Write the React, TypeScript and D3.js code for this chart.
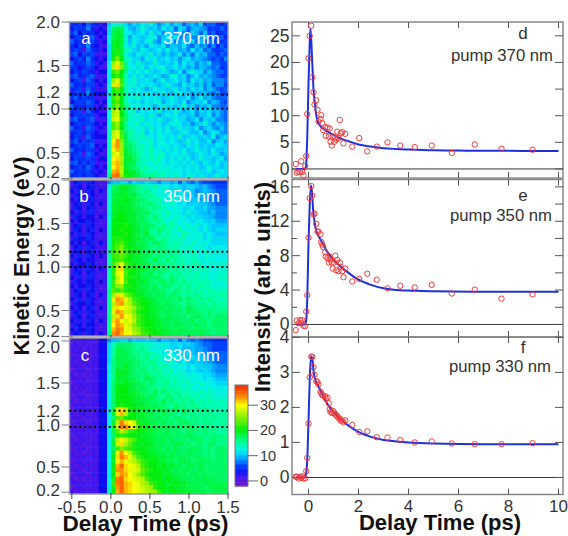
import * as d3 from "d3"
import React from "react"

// heat maps: one string per energy row (top = 2.0 eV), one base-36 character per delay step
const rowsA = [
  "546375423 a cccb 9bacbda8ac9ba79a8b677546",
  "365584232 b hiic a9bdbab9cab7ba79a9856575",
  "573645323 b ijid cabcadab8ba9c87b97a67456",
  "356467232 c ijjd 9cbabdc8acbb88a889b68574",
  "745276423 c jkjd acbacd98bab79b9b7a685756",
  "536584322 b jkid bdab9cbac8aa9c87a8968475",
  "465175423 b jlje dbadbabcadab9a8c9a786567",
  "673656222 b kljd bacbbdab9b9ac8a7b9a77576",
  "356485323 b lpkf dbb9cbdabcab8bc9a9876758",
  "745576232 c qtog cbebabdbabac9cab8a9b7766",
  "553465322 d rvph dcbdacbcdabcab9a8a987856",
  "364654233 c mokg cbdbdbabcb9ac8bdbb8a8776",
  "674567222 c kmkf bdbcabcb9adcab8ac9a98766",
  "356175323 c qtmf cebbcb9bdabcab8cab9a8887",
  "745466232 d svnf cdbcbcbabdba9cab9b8a7886",
  "456275222 c lnkf dbdb9bdbbabdab9cab8a9767",
  "365584333 c kmjf cbcbdbabcb9bdab8a9a87966",
  "574645222 d mpkf cdebcbcbabdbaac8ac9a8777",
  "356576323 c lnkf dbcacbdc9bcbac8abac8a976",
  "745465232 d mpkg ecdbcb9bdbbabdab8a9b8877",
  "456174322 d qskg deacbcbdabbdb9ac8bab9a87",
  "365656233 d rskh ecdcbdb9bcbdabab8aac8a87",
  "674467222 d stmh edcebcbdbabdbb9ac8bab887",
  "356565323 d nqkg cdebdcbcabcdcab8abda8a98",
  "745276232 d npkg edcdbebcbdabcbbac8ab98a8",
  "456465322 e rtmh feceacbdbcbabdbaac8acb98",
  "365174333 e stni fededcbdcbcbdabcbabac8ab",
  "574656222 e uxpi gfecdebdcbcbabdbcaac8ab9",
  "356567323 e vxqi hgdfcebccdbcbacbcabaacba",
  "745465232 e uwqj hgfedecdbcbdbcabdbbacaab",
  "456176322 e stqj ihfecfcdebccbdbabcbacb9a",
  "365565233 e uvrj jhgdeedfcbcbdbcabdbbabc9",
  "674646222 f vwqj iifedcedcbdcbcbdbacbacab",
  "356475323 f uwrj ihgefdcecdcbdbcbcabdbbab",
  "745564232 f wxrk jjhfedfdedcdcbcbdbbcabcb",
  "456465322 g yzql kjigfgfeedcecbdcbcbabdbb",
]
const rowsB = [
  "234243212 8 aabb 9baabaa8aa9a7a87976655",
  "243134212 c hijj ihgfedfcdcbcbabba9a876",
  "324243132 d iijj ihgfgedcdcbbcaba89a987",
  "243343212 d ijjj ijhgfgedcdcbbcaa9a9877",
  "323134222 d ijjk jihhgfefdcdcbcbaa9a887",
  "234243132 d jjjj jihgghfedcecbcabbaa987",
  "243134212 d jjkj jiihgfgfedcdcbbcaab998",
  "324244212 d jkkj jjihigfedfdccbdbbaa9a8",
  "243233132 d jkkk jjhigfhfedcedcbcbbaa98",
  "323343212 d kkkk jjihhgfgedfdcdcbccbab9",
  "234243212 e kkkl kjihihgfgefedcecdbcbaa",
  "243134132 e kklk kjjhigfhgfedfdcdcbdbab",
  "324243212 e kkkl kjihjgfgefedcfdcdcbcba",
  "243343212 e lllk kjjihigfgfedfecdcdbcbb",
  "323134132 e lmnl kjiihgihgfefedcedcdcbb",
  "234243212 f lnpl kjjihgfhgfefedfdcecbcc",
  "243134212 f lopm kkjihigfhgfgedcfdcdcdc",
  "324243132 f mnom kjjiihghgfgfefdedcedcc",
  "243233212 f lmnl kjjihgigfhfgfedfecdcdc",
  "323343212 f mqtn lkjiihghgfgfefdefdcecd",
  "234243132 f lsvm lkjjihighgfgfefedfedcd",
  "243134212 f mtun kkjihighgfgfgefefdedcd",
  "324244212 f lrum ljkiihihgfhgffeefdedce",
  "243233132 f msun kkjjihghighgfgfefefedd",
  "323343212 f mpql lkjiihighhgfgfgeffeedd",
  "234243212 g nlnl kkjjihihhgfhgfgfefefee",
  "243134132 g qvtp nlkjiihihghhgfgfgfefef",
  "324243212 g txwt qmlkjjihihhgighgfgfgfe",
  "243343212 g rwxs rnlkkjiihihhgfhggfgfgf",
  "323134132 g svut sqmlkjjiihihhgihgggfgf",
  "234243212 g txws rplkkjjihihhhgihhgghgg",
  "243134212 g rvxu tqnlkjjihiihhhghihghgh",
  "324243132 g vxus trmlkkjjiihihhhighhghh",
  "243233212 g uxwt spnlkkjjiihiihhhihhghh",
  "323343212 g wyxt tqpmlkkjjiihiihhhihhgh",
  "234243132 g xzwu urqnmlkkjjiiihiihihhgh",
]
const rowsC = [
  "111212033 8 aabb 9baabaa8aa9a7a87876655",
  "021211233 b ehhh hgffeedcdcbbcaba987766",
  "212021133 b fiih hgfgedcdcbbaba9a998766",
  "012121233 b fiii hggfgfedcdcbbaba9a8877",
  "121201133 b giii hhgfgefedcdcbbabaa9887",
  "201212233 b giii ihhgfgfedcecbcbabaa987",
  "121021133 c giij ihhggfgefedcdcbcbbaa98",
  "012202133 c gjjj ihghgfgfedfcdcbcbaba98",
  "201021233 c gjjj ihhghgfgefededcdccbba9",
  "121201133 c gjjj iihgihgfgfefdedcdcbcba",
  "012121233 c hjjk jiihghgffgefedfdcedccb",
  "201212133 c hkkk jihihggfgffefdedcdcdcc",
  "121021233 c hkkk jjihhgighgfgfefedfdedc",
  "012201133 c hkkk kjjihihgfhgfgffefdeedd",
  "201021233 c hkkk kjjiihhgighgfgfgefefee",
  "121212133 c hklk kkjjihihhgfhggfgffefee",
  "012121133 c isvr lkjjiihihhgighgfgfgefe",
  "201211233 c jtwr lkjjiihhihhgfhggfgfgff",
  "121021133 c hnol kkjjiihihhghhgfggfgfgf",
  "012202233 c jryv usljjiihihhghihggfggff",
  "201021133 c jsyx vtnkjiihiihhhgihgggfgf",
  "121212133 c inrp mlkkjjiihihhhghhgghggf",
  "012121233 c hlml kkkjjiihiihhhhihhggghg",
  "201211133 c irts pnkkjjiiihihhhghhhgghg",
  "121021233 c jsvq olkjkjiiihhiihhghhghhg",
  "012202133 c hmpn mlkkjjiihihihhhihhghgh",
  "201021133 c jtxu rnlkkjjiihiihhihhhghgh",
  "121212233 c kvyw tqmlkjkjjiihiihhihhhgh",
  "012121133 c juwt srpmlkkjjiihiiihhihhhh",
  "201211233 c kwzv utrnlkkjkjjiihiihihhhh",
  "121021133 c lxxv ttsomlkkjjiihiihhihhhh",
  "012202233 c kvxw usqnlkkkjjjiiihiihihhh",
  "201021133 c lyzv utsrnlkkjkjjiiihiiiiih",
  "121212133 c myzw vutrqmlkkjjkjjiiihiiii",
  "012121233 d lxzw vutsrqlkkjkjjjiiiihiii",
  "201211133 e kwzw vutsrqqmkjkkjjjiiiihii",
]
const energyTicks = [2, 1.5, 1.2, 1, 0.5, 0.2]
const heatTimeTicks = [-0.5, 0, 0.5, 1, 1.5]
const colorTicks = [0, 10, 20, 30]
const colorValues = [-2, 0, 2, 3, 6, 8, 10, 12, 15, 20, 25, 30, 33, 38]
const colorStops = ["#6a10c8", "#5a18e0", "#3a14f0", "#1010f0", "#0040ff", "#0088ff", "#00c4ff", "#00f0e8", "#00ffa0", "#00ee10", "#80f000", "#ffff00", "#ff9000", "#f02000"]

const delays = [-0.51, -0.47, -0.4, -0.33, -0.29, -0.25, -0.2, -0.13, -0.09, -0.05, 0, 0.05, 0.11, 0.15, 0.2, 0.24, 0.31, 0.36, 0.4, 0.48, 0.51, 0.55, 0.59, 0.67, 0.69, 0.76, 0.81, 0.85, 0.88, 0.93, 0.97, 1.03, 1.07, 1.11, 1.15, 1.2, 1.25, 1.29, 1.35, 1.4, 1.47, 1.75, 2.03, 2.35, 2.73, 3.16, 3.67, 4.25, 4.93, 5.73, 6.65, 7.72, 8.96]
const pointsD = [0.94, -0.7, -0.56, -0.6, 1.44, -0.56, -1.25, 0.56, 2.44, 10.3, 20.8, 25, 26.9, 17.2, 14.4, 12.1, 12.9, 11.1, 8.9, 9.4, 10.1, 8.6, 7.3, 7.8, 6.2, 7.8, 6.1, 7.6, 5.1, 4.4, 6.1, 5.1, 5.9, 5.5, 7, 5.8, 9.2, 6.7, 6.9, 4.8, 6.6, 4.2, 5.8, 3.3, 4.2, 5, 4.4, 4.1, 4.4, 3, 4.6, 3.8, 3.6]
const pointsE = [-0.66, 0.46, 0.15, 0.5, 0.15, 0.5, -0.15, -0.2, 1.5, 3.4, 10.1, 14.7, 16.1, 15, 12.8, 12.9, 11.7, 10.8, 10.8, 10.5, 9.6, 9.3, 9, 8.4, 7.9, 7.7, 7.2, 7.9, 7.5, 7.2, 6.5, 7.2, 8, 6.3, 7.5, 6.2, 7.2, 6.7, 6.2, 5.5, 6.5, 5, 5.3, 5.9, 5.2, 4.2, 4.5, 4.3, 4.6, 3.6, 4.05, 3, 3.5]
const pointsF = [0.02, 0.02, -0.03, 0.02, -0.01, 0.03, -0.03, -0.02, 0.18, 0.56, 1.54, 2.86, 3.45, 3.44, 3.15, 2.93, 2.75, 2.72, 2.65, 2.45, 2.4, 2.35, 2.33, 2.32, 2.25, 2.28, 2.12, 1.95, 1.87, 1.84, 1.9, 1.85, 1.8, 1.78, 1.75, 1.7, 1.68, 1.62, 1.62, 1.57, 1.63, 1.5, 1.3, 1.32, 1.15, 1.14, 1.07, 1, 1.03, 0.97, 0.95, 0.95, 0.98]

const fitTimesD = [-0.5, -0.15, -0.1, -0.05, 0, 0.05, 0.08, 0.15, 0.2, 0.25, 0.3, 0.36, 0.45, 0.6, 0.8, 1, 1.3, 1.6, 2, 2.5, 3, 3.5, 4, 5, 6, 7, 8, 10]
const fitD = [0, 0, 0.5, 6, 16, 24, 26.4, 20, 15, 12.5, 10.5, 9, 8.2, 7.5, 6.9, 6.4, 5.7, 5.2, 4.6, 4.2, 3.9, 3.75, 3.65, 3.5, 3.45, 3.4, 3.4, 3.35]
const fitTimesE = [-0.5, -0.15, -0.1, -0.05, 0, 0.05, 0.1, 0.15, 0.18, 0.25, 0.3, 0.5, 0.7, 1, 1.3, 1.6, 2, 2.5, 3, 3.5, 4, 5, 7, 10]
const fitE = [0, 0, 0.3, 3, 9.5, 14, 16.2, 15, 13.5, 11.8, 11, 9.8, 8.7, 7.5, 6.7, 6, 5.2, 4.6, 4.2, 4, 3.95, 3.85, 3.8, 3.8]
const fitTimesF = [-0.5, -0.15, -0.1, -0.05, 0, 0.05, 0.1, 0.15, 0.2, 0.25, 0.4, 0.6, 0.8, 1, 1.3, 1.6, 2, 2.5, 3, 3.5, 4, 5, 7, 10]
const fitF = [0, 0, 0.1, 0.5, 1.6, 2.8, 3.45, 3.4, 3.05, 2.85, 2.6, 2.3, 2.05, 1.87, 1.65, 1.48, 1.3, 1.16, 1.07, 1.03, 1, 0.97, 0.95, 0.95]

const font = "'Liberation Sans', Arial, sans-serif"
const ink = "#333"
const frame = "#808080"

const color = d3.scaleLinear<string>().domain(colorValues).range(colorStops)
const heatLeft = 69.5
const heatRight = 228
const heatX = d3.scaleLinear().domain([-0.53, 1.5]).range([heatLeft, heatRight])

const heatPanels = [
  { rows: rowsA, top: 22, bottom: 178, e2: 22, e1: 109, letter: "a", pump: "370 nm", levels: [1.167, 1.003], nudge: { 0.2: -7 } as any, textY: 44, letterX: 86 },
  { rows: rowsB, top: 180, bottom: 336, e2: 180, e1: 267, letter: "b", pump: "350 nm", levels: [1.175, 1], nudge: { 2: 9, 0.2: -6 } as any, textY: 202, letterX: 84 },
  { rows: rowsC, top: 338, bottom: 494, e2: 341, e1: 425, letter: "c", pump: "330 nm", levels: [1.17, 0.975], nudge: { 2: 6, 1.2: 3, 0.2: -2 } as any, textY: 361, letterX: 85 },
]

const curveX = d3.scaleLinear().domain([-0.66, 10.18]).range([292, 563])
const linePanels = [
  { points: pointsD, times: fitTimesD, fit: fitD, top: 22, bottom: 178, domain: [-1.7, 27.6], ticks: [0, 5, 10, 15, 20, 25], minor: [0, 5, 10, 15, 20, 25], letter: "d", pump: "pump 370 nm", letterY: 39, pumpY: 60.5, pumpX: 553 },
  { points: pointsE, times: fitTimesE, fit: fitE, top: 179.5, bottom: 337, domain: [-1.46, 16.86], ticks: [0, 4, 8, 12, 16], minor: [0, 2, 4, 6, 8, 10, 12, 14, 16], letter: "e", pump: "pump 350 nm", letterY: 201, pumpY: 220.5, pumpX: 552 },
  { points: pointsF, times: fitTimesF, fit: fitF, top: 337, bottom: 494.5, domain: [-0.486, 4.01], ticks: [0, 1, 2, 3, 4], minor: [0, 1, 2, 3, 4], letter: "f", pump: "pump 330 nm", letterY: 353, pumpY: 371.5, pumpX: 551 },
]

function HeatPanel({ panel }: { panel: (typeof heatPanels)[number] }) {
  const { rows, top, bottom, e2, e1, letter, pump, levels, nudge, textY, letterX } = panel
  const energy = d3.scaleLinear().domain([2, 1]).range([e2, e1])
  const rowY = d3.scaleBand<number>().domain(d3.range(rows.length)).range([top, bottom])
  const colX = d3.scaleBand<number>().domain(d3.range(38)).range([heatLeft, heatRight])
  const clipId = `clip-${letter}`
  return (
    <g>
      <clipPath id={clipId}><rect x={heatLeft} y={top} width={heatRight - heatLeft} height={bottom - top} /></clipPath>
      <g clipPath={`url(#${clipId})`}>
        <g filter="url(#soft)">
          {rows.map((row, i) => {
            const cells = row.replace(/ /g, "").padEnd(38, row[row.length - 1]).slice(0, 38).split("")
            return cells.map((c, j) => (
              <rect key={`${i}-${j}`} x={colX(j)} y={rowY(i)} width={colX.bandwidth() + 0.5} height={rowY.bandwidth() + 0.5} fill={color(parseInt(c, 36))} />
            ))
          })}
        </g>
      </g>
      <rect x={heatLeft} y={top} width={heatRight - heatLeft} height={bottom - top} fill="none" stroke="#999" strokeWidth={1.5} />
      {levels.map(l => (
        <line key={l} x1={heatLeft} x2={heatRight} y1={energy(l)} y2={energy(l)} stroke="#000" strokeWidth={2} strokeDasharray="2 2.9" />
      ))}
      {energyTicks.map(t => (
        <g key={t}>
          {t !== 1.2 && <line x1={heatLeft - 8} x2={heatLeft} y1={energy(t)} y2={energy(t)} stroke={frame} strokeWidth={1} />}
          <text x={60} y={energy(t) + 6 + (nudge[t] || 0)} textAnchor="end" fontSize={17} fill={ink}>{t.toFixed(1)}</text>
        </g>
      ))}
      {heatTimeTicks.map(t => (
        <line key={t} x1={heatX(t)} x2={heatX(t)} y1={bottom - 1} y2={bottom + 5} stroke="#444" strokeWidth={1} />
      ))}
      <text x={letterX} y={textY} textAnchor="middle" fontSize={17} fill="#fff">{letter}</text>
      <text x={220} y={textY} textAnchor="end" fontSize={17} fill="#fff">{pump}</text>
    </g>
  )
}

function LinePanel({ panel }: { panel: (typeof linePanels)[number] }) {
  const { points, times, fit, top, bottom, domain, ticks, minor, letter, pump, letterY, pumpY, pumpX } = panel
  const y = d3.scaleLinear().domain(domain).range([bottom, top])
  const fitLine = d3.line<number>().x((_, i) => curveX(times[i])).y(d => y(d)).curve(d3.curveMonotoneX)
  return (
    <g>
      <rect x={292} y={top} width={271} height={bottom - top} fill="none" stroke={frame} strokeWidth={1.4} />
      <line x1={292} x2={563} y1={y(0)} y2={y(0)} stroke="#333" strokeWidth={1} />
      {minor.map(t => (
        <g key={t}>
          <line x1={292} x2={ticks.includes(t) ? 300 : 297} y1={y(t)} y2={y(t)} stroke="#555" />
          <line x1={555} x2={563} y1={y(t)} y2={y(t)} stroke="#555" />
        </g>
      ))}
      {ticks.map(t => (
        <text key={t} x={289.5} y={y(t) + 6} textAnchor="end" fontSize={17.5} fill={ink}>{t}</text>
      ))}
      {curveX.ticks(5).map(t => (
        <g key={t}>
          <line x1={curveX(t)} x2={curveX(t)} y1={top} y2={top + 6} stroke="#555" />
          <line x1={curveX(t)} x2={curveX(t)} y1={bottom - 6} y2={bottom} stroke="#555" />
        </g>
      ))}
      <path d={fitLine(fit) || ""} fill="none" stroke="#1f2fe0" strokeWidth={2} />
      {points.map((p, i) => (
        <circle key={i} cx={curveX(delays[i])} cy={y(p)} r={2.7} fill="none" stroke="#f23a3a" strokeWidth={1} />
      ))}
      <text x={523} y={letterY} textAnchor="middle" fontSize={17} fill={ink}>{letter}</text>
      <text x={pumpX} y={pumpY} textAnchor="end" fontSize={16.7} fill={ink}>{pump}</text>
    </g>
  )
}

function ColorBar() {
  const y = d3.scaleLinear().domain([-2, 38]).range([486, 385])
  const steps = d3.range(-2, 38, 0.5)
  return (
    <g>
      {steps.map(v => (
        <rect key={v} x={235} y={y(v + 0.5)} width={13} height={y(v) - y(v + 0.5) + 0.5} fill={color(v)} />
      ))}
      <rect x={235} y={385} width={13} height={101} fill="none" stroke="#777" />
      {colorTicks.map(t => (
        <g key={t}>
          <line x1={248} x2={258} y1={y(t)} y2={y(t)} stroke="#666" />
          <text x={260} y={y(t) + 5} fontSize={14.5} fill={ink}>{t}</text>
        </g>
      ))}
    </g>
  )
}

export default function App() {
  return (
    <svg width={568} height={536} viewBox="0 0 568 536" style={{ position: "absolute", left: 0, top: 0, fontFamily: font }}>
      <defs>
        <filter id="soft" x="-0.02" y="-0.02" width="1.04" height="1.04"><feGaussianBlur stdDeviation="0.45" /></filter>
      </defs>
      {heatPanels.map(p => <HeatPanel key={p.letter} panel={p} />)}
      {heatTimeTicks.map(t => (
        <text key={t} x={heatX(t)} y={513} textAnchor="middle" fontSize={17} fill={ink}>{t.toFixed(1)}</text>
      ))}
      <text x={145.5} y={531} textAnchor="middle" fontSize={22.5} fontWeight="bold" fill="#111">Delay Time (ps)</text>
      <text transform="translate(29,256) rotate(-90)" textAnchor="middle" fontSize={21.7} fontWeight="bold" fill="#111">Kinetic Energy (eV)</text>
      <ColorBar />
      {linePanels.map(p => <LinePanel key={p.letter} panel={p} />)}
      {curveX.ticks(5).map(t => (
        <text key={t} x={curveX(t)} y={512} textAnchor="middle" fontSize={17} fill={ink}>{t}</text>
      ))}
      <text x={440} y={530} textAnchor="middle" fontSize={22} fontWeight="bold" fill="#111">Delay Time (ps)</text>
      <text transform="translate(270,287) rotate(-90)" textAnchor="middle" fontSize={22} fontWeight="bold" fill="#111">Intensity (arb. units)</text>
    </svg>
  )
}
